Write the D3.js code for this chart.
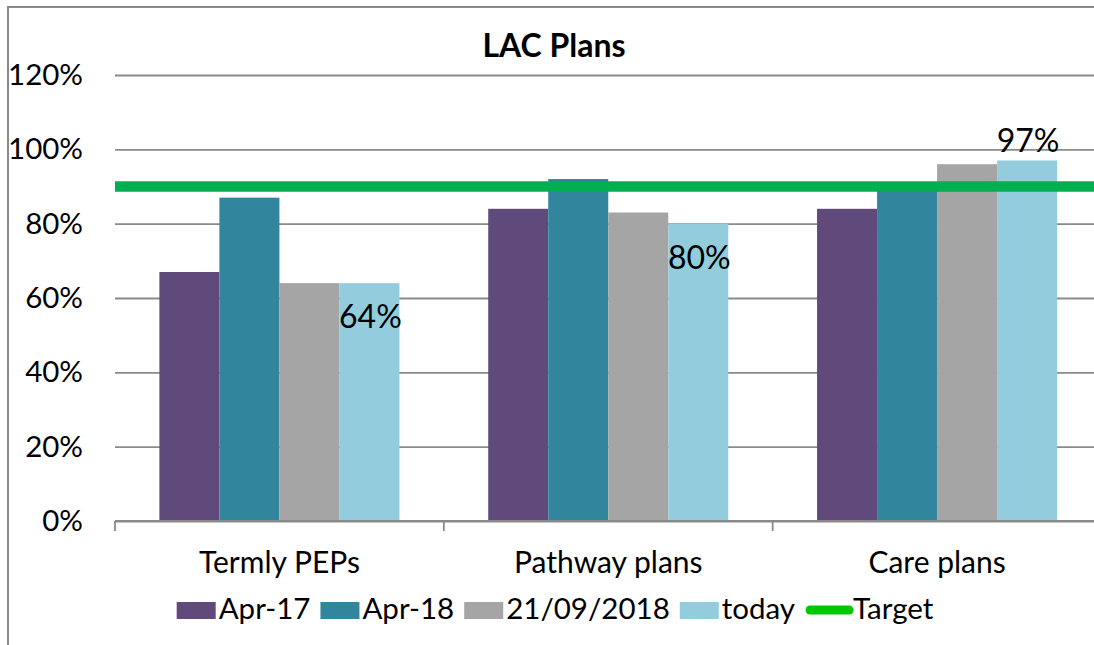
<!doctype html>
<html>
<head>
<meta charset="utf-8">
<style>
body { margin: 0; background: #fff; }
svg { font-family: Lato, "Liberation Sans", sans-serif; }
</style>
<script src="https://d3js.org/d3.v7.min.js"></script>
</head>
<body>
<svg width="1094" height="645"></svg>
<script>
// data
var categories = ["Termly PEPs", "Pathway plans", "Care plans"];
var seriesNames = ["Apr-17", "Apr-18", "21/09/2018", "today"];
var apr17 = [0.67, 0.84, 0.84];
var apr18 = [0.87, 0.92, 0.90];
var sep18 = [0.64, 0.83, 0.96];
var today = [0.64, 0.80, 0.97];
var target = 0.90;
var yTicks = [0, 0.2, 0.4, 0.6, 0.8, 1.0, 1.2];
var colors = ["#604a7b", "#31859c", "#a5a5a5", "#93cddd"];
var targetColor = "#00b050";

var svg = d3.select("svg");

var values = [apr17, apr18, sep18, today];
var rows = categories.map(function(c, i) {
  return { cat: c, vals: values.map(function(s) { return s[i]; }) };
});

// "top" is taken by window.top, so prefix these
var plotLeft = 115, plotRight = 1101.5, plotTop = 75, plotBottom = 521;

// chart frame (right and bottom edges fall outside the crop)
svg.append("rect")
    .attr("x", 8).attr("y", 7)
    .attr("width", 1092).attr("height", 660)
    .attr("fill", "none").attr("stroke", "#8a8a8a").attr("stroke-width", 2);

var y = d3.scaleLinear().domain([0, 1.2]).range([plotBottom, plotTop]);
var x0 = d3.scaleBand().domain(categories).range([plotLeft, plotRight]);
var gap = x0.bandwidth() * 0.135;
var x1 = d3.scaleBand().domain(seriesNames).range([gap, x0.bandwidth() - gap]);

// gridlines + y labels
var yAxis = svg.append("g")
    .attr("transform", "translate(" + plotLeft + ",0)")
    .call(d3.axisLeft(y).tickValues(yTicks).tickFormat(d3.format(".0%"))
      .tickSize(-(plotRight - plotLeft)).tickPadding(32));
yAxis.select(".domain").remove();
yAxis.selectAll(".tick line").attr("stroke", "#8a8a8a").attr("stroke-width", 1.8);
yAxis.selectAll(".tick text")
    .attr("font-size", 29.5).attr("fill", "#000")
    .attr("font-family", "Lato, 'Liberation Sans', sans-serif");

// bars
var g = svg.selectAll("g.cat")
    .data(rows)
    .enter().append("g")
    .attr("class", "cat")
    .attr("transform", function(d) { return "translate(" + x0(d.cat) + ",0)"; });

g.selectAll("rect")
    .data(function(d) { return d.vals.map(function(v, i) { return { name: seriesNames[i], v: v, i: i }; }); })
    .enter().append("rect")
    .attr("x", function(d) { return x1(d.name); })
    .attr("y", function(d) { return y(d.v); })
    .attr("width", x1.bandwidth())
    .attr("height", function(d) { return y(0) - y(d.v); })
    .attr("fill", function(d) { return colors[d.i]; });

// x axis line with boundary ticks
svg.append("line")
    .attr("x1", plotLeft).attr("x2", plotRight)
    .attr("y1", plotBottom).attr("y2", plotBottom)
    .attr("stroke", "#8a8a8a").attr("stroke-width", 1.8);
svg.selectAll("line.xtick")
    .data(categories)
    .enter().append("line")
    .attr("class", "xtick")
    .attr("x1", function(d) { return x0(d); })
    .attr("x2", function(d) { return x0(d); })
    .attr("y1", plotBottom).attr("y2", plotBottom + 10)
    .attr("stroke", "#8a8a8a").attr("stroke-width", 1.8);

svg.selectAll("text.cat")
    .data(categories)
    .enter().append("text")
    .attr("class", "cat")
    .attr("x", function(d) { return x0(d) + x0.bandwidth() / 2; })
    .attr("y", 573)
    .attr("text-anchor", "middle")
    .attr("font-size", 30)
    .text(function(d) { return d; });

// target line
svg.append("line")
    .attr("x1", plotLeft).attr("x2", plotRight + 10)
    .attr("y1", y(target)).attr("y2", y(target))
    .attr("stroke", targetColor).attr("stroke-width", 10.5);

// data labels on "today" series
svg.selectAll("text.lbl")
    .data(categories)
    .enter().append("text")
    .attr("class", "lbl")
    .attr("x", function(d) { return x0(d) + x1("today") + x1.bandwidth() / 2 + 1; })
    .attr("y", function(d, i) {
      return today[i] > target ? y(today[i]) - 8 : y(today[i]) + 45;
    })
    .attr("text-anchor", "middle")
    .attr("font-size", 32)
    .text(function(d, i) { return d3.format(".0%")(today[i]); });

// title
svg.append("text")
    .attr("x", 554).attr("y", 57)
    .attr("text-anchor", "middle")
    .attr("font-size", 32)
    .attr("font-weight", "bold")
    .text("LAC Plans");

// legend
var legend = svg.append("g");
var lx = 0;
seriesNames.concat(["Target"]).forEach(function(name, i) {
  var item = legend.append("g").attr("transform", "translate(" + lx + ",0)");
  if (i < seriesNames.length) {
    item.append("rect")
        .attr("x", 0).attr("y", 602)
        .attr("width", 39).attr("height", 17)
        .attr("fill", colors[i]);
  } else {
    item.append("line")
        .attr("x1", 5).attr("x2", 44)
        .attr("y1", 610).attr("y2", 610)
        .attr("stroke", "#00c800").attr("stroke-width", 9)
        .attr("stroke-linecap", "round");
  }
  var t = item.append("text")
      .attr("x", i < seriesNames.length ? 42 : 48)
      .attr("y", 619)
      .attr("font-size", 29.5)
      .text(name);
  lx += (i < seriesNames.length ? 42 : 48) + t.node().getComputedTextLength() + 10;
});
var lw = lx - 10;
legend.attr("transform", "translate(" + (555 - lw / 2) + ",0)");
</script>
</body>
</html>
